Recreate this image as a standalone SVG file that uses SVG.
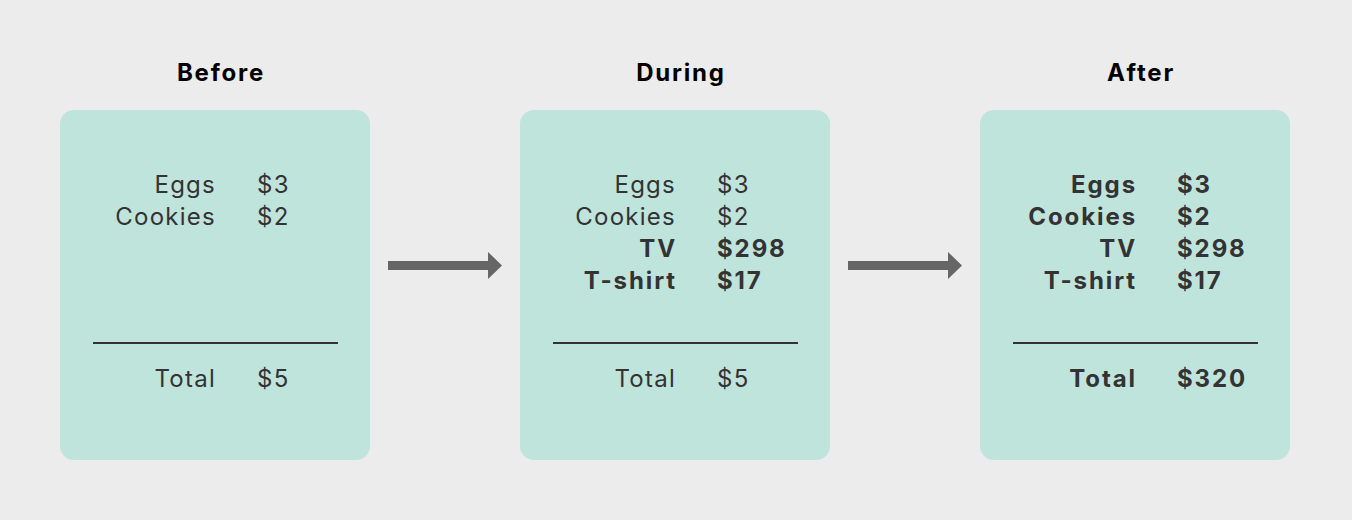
<svg xmlns="http://www.w3.org/2000/svg" width="1352" height="520" viewBox="0 0 1352 520">
<style>
.bg{fill:#ececec}
.panel{fill:#bfe4dc}
.title{font-family:Inter,"Noto Sans",sans-serif;font-size:24px;font-weight:700;fill:#000;text-anchor:middle;letter-spacing:1.8px}
.t{font-family:Inter,"Noto Sans",sans-serif;font-size:24px;fill:#333;letter-spacing:1.25px}
.l{text-anchor:end}
.b{font-weight:700;letter-spacing:1.9px}
.rule{stroke:#333;stroke-width:2}
.arrow{fill:#666}
</style>
<rect class="bg" width="1352" height="520"/>
<g id="before">
<text class="title" x="221" y="81">Before</text>
<rect class="panel" x="60" y="110" width="310" height="350" rx="14"/>
<text class="t l" x="216" y="193">Eggs</text><text class="t" x="257" y="193">$3</text>
<text class="t l" x="216" y="225">Cookies</text><text class="t" x="257" y="225">$2</text>
<line class="rule" x1="93" y1="343" x2="338" y2="343"/>
<text class="t l" x="216" y="387">Total</text><text class="t" x="257" y="387">$5</text>
</g>
<g id="during">
<text class="title" x="681" y="81">During</text>
<rect class="panel" x="520" y="110" width="310" height="350" rx="14"/>
<text class="t l" x="676" y="193">Eggs</text><text class="t" x="717" y="193">$3</text>
<text class="t l" x="676" y="225">Cookies</text><text class="t" x="717" y="225">$2</text>
<text class="t l b" x="677" y="257">TV</text><text class="t b" x="717" y="257">$298</text>
<text class="t l b" x="677" y="289">T-shirt</text><text class="t b" x="717" y="289">$17</text>
<line class="rule" x1="553" y1="343" x2="798" y2="343"/>
<text class="t l" x="676" y="387">Total</text><text class="t" x="717" y="387">$5</text>
</g>
<g id="after">
<text class="title" x="1141" y="81">After</text>
<rect class="panel" x="980" y="110" width="310" height="350" rx="14"/>
<text class="t l b" x="1137" y="193">Eggs</text><text class="t b" x="1177" y="193">$3</text>
<text class="t l b" x="1137" y="225">Cookies</text><text class="t b" x="1177" y="225">$2</text>
<text class="t l b" x="1137" y="257">TV</text><text class="t b" x="1177" y="257">$298</text>
<text class="t l b" x="1137" y="289">T-shirt</text><text class="t b" x="1177" y="289">$17</text>
<line class="rule" x1="1013" y1="343" x2="1258" y2="343"/>
<text class="t l b" x="1137" y="387">Total</text><text class="t b" x="1177" y="387">$320</text>
</g>
<g id="connectors">
<path class="arrow" d="M388 261 H488 V252 L502 265.5 L488 279 V270 H388 Z"/>
<path class="arrow" d="M848 261 H948 V252 L962 265.5 L948 279 V270 H848 Z"/>
</g>
</svg>
